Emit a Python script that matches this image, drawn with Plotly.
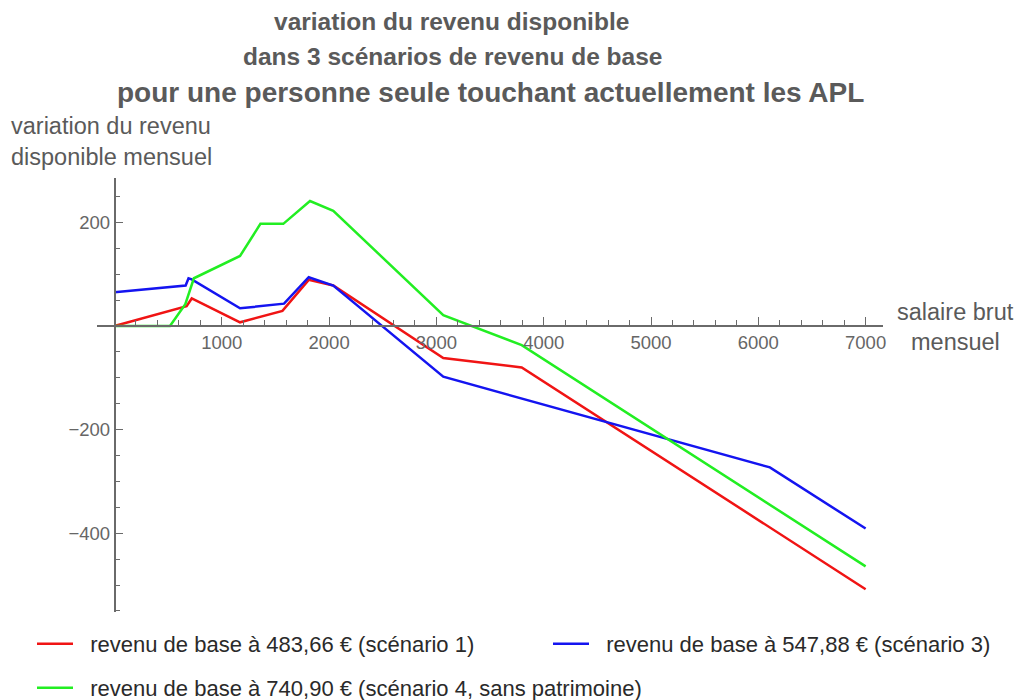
import plotly.graph_objects as go

# Salaire brut mensuel (€) et variation du revenu disponible mensuel (€)
salaire_s1 = [0, 672, 720, 1170, 1565, 1810, 2039, 3064, 3795, 7000]
variation_s1 = [0, 38, 53, 7, 29, 89, 78, -62, -80, -508]

salaire_s3 = [0, 663, 690, 720, 1170, 1580, 1810, 2039, 3064, 6108, 7000]
variation_s3 = [65, 78, 92, 90, 34, 43, 94, 78, -98, -273, -391]

salaire_s4 = [0, 517, 660, 740, 1170, 1360, 1573, 1822, 2039, 3064, 3795, 7000]
variation_s4 = [0, 0, 42, 92, 135, 197, 197, 241, 222, 21, -37, -464]

noms = [
    "revenu de base à 483,66 € (scénario 1)",
    "revenu de base à 547,88 € (scénario 3)",
    "revenu de base à 740,90 € (scénario 4, sans patrimoine)",
]
couleurs = ["#f01414", "#1414f0", "#22ee22"]

x_ticks = [1000, 2000, 3000, 4000, 5000, 6000, 7000]
y_ticks = [-400, -200, 200]
y_ticktext = ["\u2212400", "\u2212200", "200"]

titre = [
    "variation du revenu disponible",
    "dans 3 scénarios de revenu de base",
    "pour une personne seule touchant actuellement les APL",
]

# Page geometry (px)
W, H = 1018, 700
ML, MR, MT, MB = 97, 135, 178, 88
PW, PH = W - ML - MR, H - MT - MB


def px_x(p):
    return (p - ML) / PW


def px_y(p):
    return (H - MB - p) / PH


FONT = "Liberation Sans, Arial, sans-serif"
AXIS_GREY = "#6a6a6a"
GAP = "\u00a0\u00a0"  # extra room between legend swatch and label

fig = go.Figure()
series = [(salaire_s1, variation_s1), (salaire_s3, variation_s3), (salaire_s4, variation_s4)]
legends = ["legend", "legend2", "legend3"]
for (xs, ys), nom, c, lg in zip(series, noms, couleurs, legends):
    fig.add_trace(go.Scatter(x=xs, y=ys, mode="lines", name=GAP + nom,
                             line=dict(color=c, width=2.5), legend=lg))

leg_common = dict(orientation="h", xref="container", yref="container",
                  xanchor="left", yanchor="middle", itemwidth=36,
                  bgcolor="rgba(0,0,0,0)", borderwidth=0,
                  font=dict(family=FONT, size=22, color="#2a2a2a"))

annotations = []
for txt, cx, cy, fs in zip(titre, [451, 452, 490], [21, 57, 92], [24.5, 24.5, 28]):
    annotations.append(dict(text="<b>" + txt + "</b>", xref="paper", yref="paper",
                            x=px_x(cx), y=px_y(cy), xanchor="center", yanchor="middle",
                            showarrow=False,
                            font=dict(family=FONT, size=fs, color="#5a5a5a")))
for txt, cy in zip(["variation du revenu", "disponible mensuel"], [126, 157]):
    annotations.append(dict(text=txt, xref="paper", yref="paper",
                            x=px_x(9), y=px_y(cy), xanchor="left", yanchor="middle",
                            showarrow=False,
                            font=dict(family=FONT, size=23.5, color="#5a5a5a")))
for txt, cy in zip(["salaire brut", "mensuel"], [312, 342]):
    annotations.append(dict(text=txt, xref="paper", yref="paper",
                            x=px_x(956), y=px_y(cy), xanchor="center", yanchor="middle",
                            showarrow=False,
                            font=dict(family=FONT, size=23.5, color="#5a5a5a")))

fig.update_layout(
    width=W, height=H, autosize=False,
    margin=dict(l=ML, r=MR, t=MT, b=MB, autoexpand=False),
    paper_bgcolor="white", plot_bgcolor="white",
    showlegend=True,
    legend=dict(**leg_common, x=32 / W, y=1 - 644 / H),
    legend2=dict(**leg_common, x=548 / W, y=1 - 644 / H),
    legend3=dict(**leg_common, x=32 / W, y=1 - 688 / H),
    annotations=annotations,
    xaxis=dict(
        range=[-163, 7162], anchor="free", position=px_y(326),
        showline=True, linecolor=AXIS_GREY, linewidth=1.5,
        showgrid=False, zeroline=False,
        ticks="inside", ticklen=8, tickwidth=1.2, tickcolor=AXIS_GREY,
        tickmode="array", tickvals=x_ticks,
        tickfont=dict(family=FONT, size=18.5, color="#666666"),
        minor=dict(ticks="inside", ticklen=5, tickwidth=1, tickcolor=AXIS_GREY,
                   tickmode="linear", tick0=0, dtick=200, showgrid=False),
    ),
    yaxis=dict(
        range=[-552, 285.5], anchor="free", position=px_x(114.5),
        showline=True, linecolor=AXIS_GREY, linewidth=1.5,
        showgrid=False, zeroline=False,
        ticks="inside", ticklen=8, tickwidth=1.2, tickcolor=AXIS_GREY,
        tickmode="array", tickvals=y_ticks, ticktext=y_ticktext,
        tickfont=dict(family=FONT, size=18.5, color="#666666"),
        minor=dict(ticks="inside", ticklen=5, tickwidth=1, tickcolor=AXIS_GREY,
                   tickmode="linear", tick0=0, dtick=50, showgrid=False),
    ),
)

fig.write_html("out.html")
